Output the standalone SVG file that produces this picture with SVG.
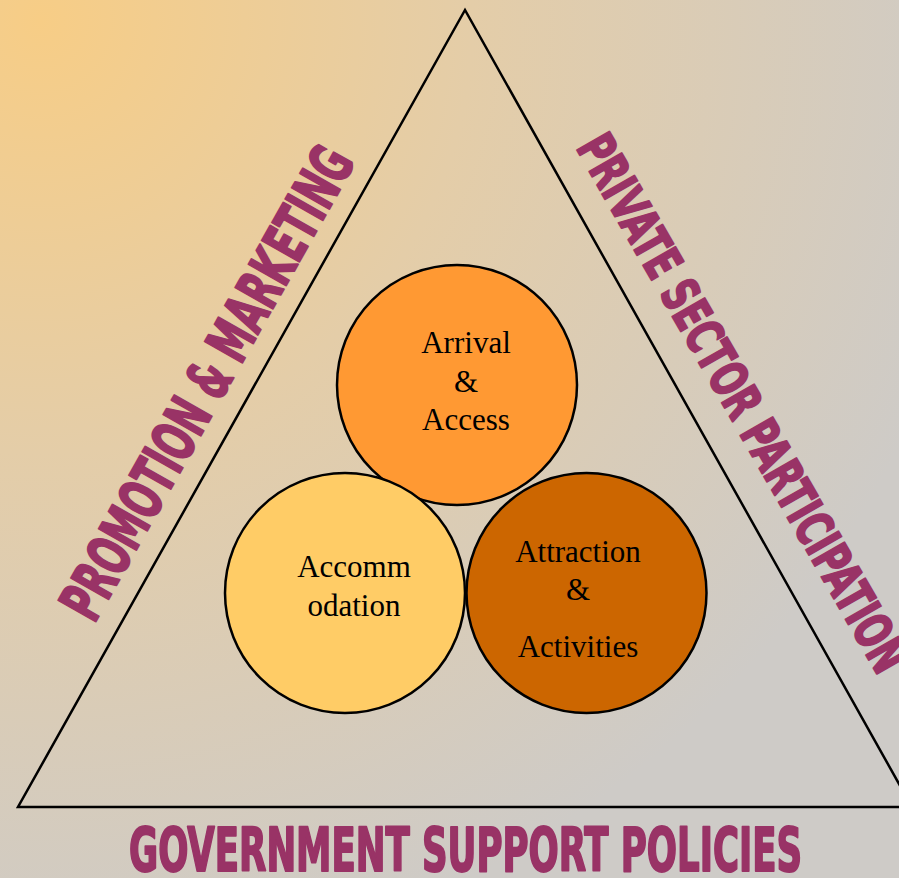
<svg xmlns="http://www.w3.org/2000/svg" width="899" height="878" viewBox="0 0 899 878">
<defs>
<radialGradient id="bg" gradientUnits="userSpaceOnUse" cx="40" cy="20" r="960">
<stop offset="0" stop-color="#F7CD86"/>
<stop offset="0.45" stop-color="#E4CDA8"/>
<stop offset="1" stop-color="#CECBC7"/>
</radialGradient>
</defs>
<style>
.c{stroke:#000;stroke-width:2.5}
.t{font-family:"Liberation Serif","Times New Roman",serif;font-size:31px;fill:#000;text-anchor:middle}
.b{font-family:"DejaVu Sans Condensed","Liberation Sans Narrow","Liberation Sans",sans-serif;font-weight:bold;fill:#993366;stroke:#993366;stroke-width:2;stroke-linejoin:round;text-anchor:middle}
</style>
<rect width="899" height="878" fill="url(#bg)"/>
<polygon points="465,10 18,807 912,807" fill="none" stroke="#000" stroke-width="2.5"/>
<g id="connectors"/>
<g id="arrival">
<circle class="c" cx="457" cy="385" r="120" fill="#FF9933"/>
<text class="t" x="466" y="353">Arrival</text>
<text class="t" x="466" y="392">&amp;</text>
<text class="t" x="466" y="430">Access</text>
</g>
<g id="accommodation">
<circle class="c" cx="345" cy="593" r="120" fill="#FFCC66"/>
<text class="t" x="354" y="577">Accomm</text>
<text class="t" x="354" y="616">odation</text>
</g>
<g id="attraction">
<circle class="c" cx="586.5" cy="593" r="120" fill="#CC6600"/>
<text class="t" x="578" y="562">Attraction</text>
<text class="t" x="578" y="600">&amp;</text>
<text class="t" x="578" y="657">Activities</text>
</g>
<g id="promotion">
<text class="b" font-size="59" transform="translate(225,393) rotate(-60.5)" textLength="532" lengthAdjust="spacingAndGlyphs">PROMOTION &amp; MARKETING</text>
</g>
<g id="private">
<text class="b" font-size="51" transform="translate(727,412) rotate(60.2)" textLength="610" lengthAdjust="spacingAndGlyphs">PRIVATE SECTOR PARTICIPATION</text>
</g>
<g id="government">
<text class="b" font-size="60" x="465.5" y="871" textLength="673" lengthAdjust="spacingAndGlyphs">GOVERNMENT SUPPORT POLICIES</text>
</g>
</svg>
